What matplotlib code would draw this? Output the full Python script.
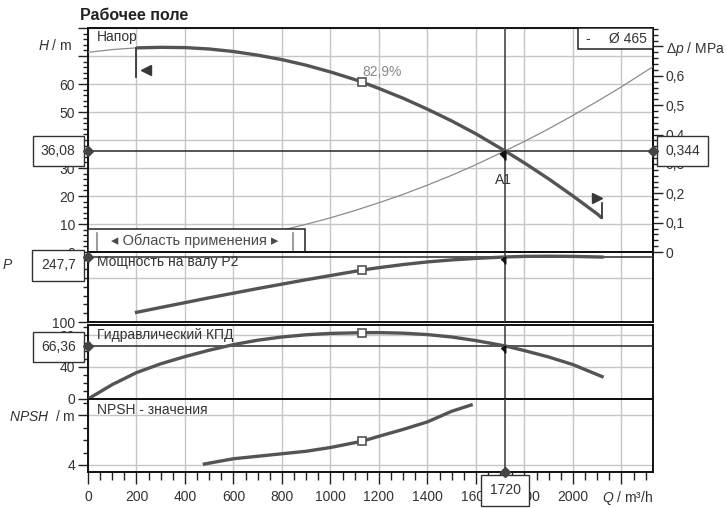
import matplotlib
matplotlib.use("Agg")
import numpy as np
import matplotlib.pyplot as plt
from matplotlib.ticker import MultipleLocator, FuncFormatter
from matplotlib.path import Path
from matplotlib.patches import Rectangle
from matplotlib.lines import Line2D

plt.rcParams.update({
    'font.family': ['Liberation Sans', 'DejaVu Sans'],
    'font.size': 10,
    'mathtext.fontset': 'custom',
    'mathtext.rm': 'Liberation Sans',
    'mathtext.it': 'Liberation Sans:italic',
    'mathtext.bf': 'Liberation Sans:bold',
})

# ---- operating point / impeller ----
q_op = 1720
h_op = 36.08
dp_op = 0.344
p2_op = 247.7
eta_op = 66.36
impeller = "Ø 465"
bep_q = 1130
bep_eta = 82.9

# ---- head curve: thin part below minimum flow, thick part in working range ----
q_head_ext = [0, 100, 200]
h_head_ext = [71.3, 72.3, 72.9]
q_head = [200, 300, 400, 500, 600, 700, 800, 900, 1000, 1100, 1130, 1200, 1300,
          1400, 1500, 1600, 1700, 1720, 1800, 1900, 2000, 2100, 2120]
h_head = [72.9, 73.1, 73.0, 72.5, 71.6, 70.3, 68.7, 66.7, 64.3, 61.6, 60.7, 58.4, 54.9,
          51.0, 46.8, 42.2, 37.1, 36.08, 31.8, 26.1, 20.0, 13.6, 12.1]

# ---- system curve (head equivalent) ----
q_sys = [0, 100, 200, 300, 400, 500, 600, 700, 800, 900, 1000, 1100, 1200, 1300,
         1400, 1500, 1600, 1700, 1800, 1900, 2000, 2100, 2200, 2330]
h_sys = [0.0, 0.1, 0.5, 1.1, 2.0, 3.0, 4.4, 6.0, 7.8, 9.9, 12.2, 14.8, 17.6, 20.6,
         23.9, 27.4, 31.2, 35.3, 39.5, 44.0, 48.8, 53.8, 59.0, 66.2]

# ---- shaft power P2, kW ----
q_p2 = [200, 300, 400, 500, 600, 700, 800, 900, 1000, 1100, 1130, 1200, 1300, 1400,
        1500, 1600, 1720, 1800, 1900, 2000, 2120]
p2 = [122, 133, 144, 155, 165.5, 176, 186, 196, 205.5, 215, 218, 223.5, 230.5, 236.5,
      241, 244.5, 247.7, 249, 249.5, 249, 247.5]

# ---- hydraulic efficiency, % ----
q_eta = [0, 100, 200, 300, 400, 500, 600, 700, 800, 900, 1000, 1130, 1200, 1300, 1400,
         1500, 1600, 1720, 1800, 1900, 2000, 2120]
eta = [0, 18, 33, 44, 53, 61, 68, 73.5, 77.5, 80.3, 82.0, 82.9, 83.0, 82.3, 80.5,
       77.5, 73, 66.36, 60.5, 52.5, 43, 28]

# ---- NPSH, m ----
q_npsh = [480, 600, 700, 800, 900, 1000, 1130, 1200, 1300, 1400, 1500, 1580]
npsh = [4.08, 4.5, 4.7, 4.9, 5.1, 5.4, 5.9, 6.3, 6.85, 7.45, 8.3, 8.8]

q_max = 2330

CURVE = '#545454'
THIN = '#8c8c8c'
GRID = '#c6c6c6'
OPER = '#383838'
TXT = '#333333'

W, HPX = 726, 508
fig = plt.figure(figsize=(W / 100, HPX / 100), dpi=100)


def rect(top, bottom, left=88, right=653):
    return [left / W, 1 - bottom / HPX, (right - left) / W, (bottom - top) / HPX]


ax_h = fig.add_axes(rect(28, 252))
ax_p = fig.add_axes(rect(252, 322))
ax_e = fig.add_axes(rect(325, 399))
ax_n = fig.add_axes(rect(399, 472))
axes = [ax_h, ax_p, ax_e, ax_n]

for ax in axes:
    ax.patch.set_visible(False)
    ax.set_xlim(0, q_max)
    ax.xaxis.set_major_locator(MultipleLocator(200))
    ax.xaxis.set_minor_locator(MultipleLocator(50))
    ax.grid(True, which='major', color=GRID, lw=1.0)
    ax.set_axisbelow(True)
    for s in ax.spines.values():
        s.set_linewidth(1.4)
        s.set_color('#111111')
    ax.tick_params(axis='x', which='both', bottom=False, labelbottom=False)
    ax.tick_params(axis='y', which='both', direction='out', colors='#222222',
                   labelcolor=TXT, labelsize=10, pad=2, right=False)
    ax.tick_params(axis='y', which='major', length=7.2, width=1)
    ax.tick_params(axis='y', which='minor', length=3.6, width=1)
    ax.axvline(q_op, color=OPER, lw=1.1, zorder=4)


def box(ax, text, xy, xycoords, offset, ha, va='center'):
    ax.annotate(text, xy=xy, xycoords=xycoords, xytext=offset,
                textcoords='offset points', ha=ha, va=va, color=TXT, fontsize=10,
                annotation_clip=False, zorder=10,
                bbox=dict(boxstyle='square,pad=0.6', fc='white', ec='#333333', lw=1))


def diamond(ax, x, y, **kw):
    ax.plot([x], [y], marker='D', ms=5, color='#444444', clip_on=False, zorder=11, **kw)


# small flag marking the duty point on each curve
flag = Path([(-0.6, -0.35), (0, 0), (0, -1.0)],
            [Path.MOVETO, Path.LINETO, Path.LINETO])

# ================= head panel =================
k_dp = dp_op / h_op
ax_h.set_ylim(0, 80)
ax_h.yaxis.set_major_locator(MultipleLocator(10))
ax_h.yaxis.set_minor_locator(MultipleLocator(2))
ax_h.yaxis.set_major_formatter(FuncFormatter(lambda v, p: '' if v > 65 else f'{v:.0f}'))

ax_h.plot(q_sys, h_sys, color=THIN, lw=0.9, zorder=3)
ax_h.plot(q_head_ext, h_head_ext, color=THIN, lw=0.9, zorder=3)
ax_h.plot(q_head, h_head, color=CURVE, lw=2.4, zorder=5, solid_capstyle='butt')
ax_h.axhline(h_op, color=OPER, lw=1.2, zorder=4)

h_bep = float(np.interp(bep_q, q_head, h_head))
ax_h.plot([bep_q], [h_bep], marker='s', ms=6, mfc='white', mec=CURVE, mew=1.2, zorder=6)
ax_h.annotate(f'{bep_eta:.1f}%'.replace('.', ','), xy=(bep_q, h_bep), xytext=(0.5, 7.5),
              textcoords='offset points', ha='left', va='center', color='#8a8a8a', fontsize=10)

# working range limits
q_lo, h_lo = q_head[0], h_head[0]
q_hi, h_hi = q_head[-1], h_head[-1]
ax_h.plot([q_lo, q_lo], [h_lo, h_lo - 10.4], color=OPER, lw=1.3, zorder=6)
ax_h.plot([q_lo + 40], [h_lo - 7.9], marker='<', ms=7, color=OPER, zorder=6)
ax_h.plot([q_hi, q_hi], [h_hi, h_hi + 5.4], color=OPER, lw=1.3, zorder=6)
ax_h.plot([q_hi - 20], [h_hi + 7.2], marker='>', ms=7, color=OPER, zorder=6)

ax_h.plot([q_op], [h_op], marker=flag, ms=13, color='#111111', mew=1.6, zorder=7)
ax_h.annotate('A1', xy=(q_op, h_op), xytext=(-1.5, -21), textcoords='offset points',
              ha='center', va='center', color=TXT, fontsize=10)

ax_h.annotate('Напор', xy=(0, 1), xycoords='axes fraction', xytext=(6.5, -6.5),
              textcoords='offset points', ha='left', va='center', color=TXT, fontsize=10)
ax_h.annotate(r'$H$ / m', xy=(0, 0.7 / k_dp), xycoords=('axes fraction', 'data'),
              xytext=(-11.5, 1), textcoords='offset points', ha='right', va='center',
              color=TXT, fontsize=10, annotation_clip=False)

# application range box
ax_h.add_patch(Rectangle((0, 0), 0.384, 0.1027, transform=ax_h.transAxes,
                         fc='white', ec='#222222', lw=1.1, zorder=8))
for xb in (0.016, 0.363):
    ax_h.add_line(Line2D([xb, xb], [0.009, 0.085], transform=ax_h.transAxes,
                         color='#8a8a8a', lw=1.2, zorder=9))
ax_h.text(0.189, 0.049, '◂ Область применения ▸', transform=ax_h.transAxes,
          ha='center', va='center', color='#4a4a4a', fontsize=10.5, zorder=9)

# impeller box
ax_h.add_patch(Rectangle((0.867, 0.906), 0.133, 0.094, transform=ax_h.transAxes,
                         fc='white', ec='#222222', lw=1.1, zorder=8))
ax_h.text(0.880, 0.953, '-', transform=ax_h.transAxes, ha='left', va='center',
          color=TXT, fontsize=10, zorder=9)
ax_h.text(0.990, 0.953, impeller, transform=ax_h.transAxes, ha='right', va='center',
          color=TXT, fontsize=10, zorder=9)

# pressure axis on the right
sec = ax_h.secondary_yaxis('right', functions=(lambda h: h * k_dp, lambda d: d / k_dp))


def dp_fmt(v, pos):
    if abs(v - 0.7) < 1e-6:
        return r'$\Delta p$ / MPa'
    if abs(v) < 1e-9:
        return '0'
    return f'{v:.1f}'.replace('.', ',')


sec.yaxis.set_major_locator(MultipleLocator(0.1))
sec.yaxis.set_minor_locator(MultipleLocator(0.02))
sec.yaxis.set_major_formatter(FuncFormatter(dp_fmt))
sec.tick_params(which='both', direction='out', colors='#222222', labelcolor=TXT,
                labelsize=10, pad=2)
sec.tick_params(which='major', length=7.2, width=1)
sec.tick_params(which='minor', length=3.6, width=1)
sec.spines['right'].set_linewidth(1.4)

diamond(ax_h, 0, h_op)
diamond(ax_h, q_max, h_op)
box(ax_h, f'{h_op:.2f}'.replace('.', ','), (0, h_op), ('axes fraction', 'data'), (-8.9, 0), 'right')
box(ax_h, f'{dp_op:.3f}'.replace('.', ','), (1, h_op), ('axes fraction', 'data'), (8.9, 0), 'left')

# ================= power panel =================
ax_p.set_ylim(100, 259)
ax_p.yaxis.set_major_locator(MultipleLocator(100))
ax_p.yaxis.set_minor_locator(MultipleLocator(20))
ax_p.yaxis.set_major_formatter(FuncFormatter(lambda v, p: '100' if abs(v - 100) < 1e-6 else ''))
ax_p.plot(q_p2, p2, color=CURVE, lw=2.4, zorder=5)
ax_p.axhline(p2_op, color=OPER, lw=1.2, zorder=4)
p_bep = float(np.interp(bep_q, q_p2, p2))
ax_p.plot([bep_q], [p_bep], marker='s', ms=6, mfc='white', mec=CURVE, mew=1.2, zorder=6)
ax_p.plot([q_op], [p2_op], marker=flag, ms=10, color='#111111', mew=1.4, zorder=7)
ax_p.annotate('Мощность на валу P2', xy=(0, 1), xycoords='axes fraction', xytext=(6.5, -7.2),
              textcoords='offset points', ha='left', va='center', color=TXT, fontsize=10)
ax_p.text(-0.152, 229.5, r'$P$', transform=ax_p.get_yaxis_transform(), ha='left',
          va='center', color=TXT, fontsize=10, clip_on=False, zorder=1)
diamond(ax_p, 0, p2_op)
box(ax_p, f'{p2_op:.1f}'.replace('.', ','), (0, p2_op), ('axes fraction', 'data'), (-8.9, -6.1), 'right')

# ================= efficiency panel =================
ax_e.set_ylim(0, 92.5)
ax_e.yaxis.set_major_locator(MultipleLocator(40))
ax_e.yaxis.set_minor_locator(MultipleLocator(10))
ax_e.yaxis.set_major_formatter(FuncFormatter(lambda v, p: f'{v:.0f}'))
ax_e.plot(q_eta, eta, color=CURVE, lw=2.4, zorder=5)
ax_e.axhline(eta_op, color=OPER, lw=1.2, zorder=4)
ax_e.plot([bep_q], [bep_eta], marker='s', ms=6, mfc='white', mec=CURVE, mew=1.2, zorder=6)
ax_e.plot([q_op], [eta_op], marker=flag, ms=10, color='#111111', mew=1.4, zorder=7)
ax_e.annotate('Гидравлический КПД', xy=(0, 1), xycoords='axes fraction', xytext=(6.5, -7.2),
              textcoords='offset points', ha='left', va='center', color=TXT, fontsize=10)
diamond(ax_e, 0, eta_op)
box(ax_e, f'{eta_op:.2f}'.replace('.', ','), (0, eta_op), ('axes fraction', 'data'), (-8.9, -0.7), 'right')

# ================= NPSH panel =================
ax_n.set_ylim(3.44, 9.28)
ax_n.yaxis.set_major_locator(MultipleLocator(4))
ax_n.yaxis.set_minor_locator(MultipleLocator(1))
ax_n.yaxis.set_major_formatter(FuncFormatter(
    lambda v, p: r'$NPSH$  / m' if abs(v - 8) < 1e-6 else f'{v:.0f}'))
ax_n.plot(q_npsh, npsh, color=CURVE, lw=2.4, zorder=5)
n_bep = float(np.interp(bep_q, q_npsh, npsh))
ax_n.plot([bep_q], [n_bep], marker='s', ms=6, mfc='white', mec=CURVE, mew=1.2, zorder=6)
ax_n.annotate('NPSH - значения', xy=(0, 1), xycoords='axes fraction', xytext=(6.5, -8),
              textcoords='offset points', ha='left', va='center', color=TXT, fontsize=10)

ax_n.tick_params(axis='x', which='both', bottom=True, labelbottom=True, direction='out',
                 colors='#222222', labelcolor=TXT, labelsize=10, pad=4.5)
ax_n.tick_params(axis='x', which='major', length=8.5, width=1)
ax_n.tick_params(axis='x', which='minor', length=5.5, width=1)
ax_n.xaxis.set_major_formatter(FuncFormatter(lambda v, p: '' if v > 2100 else f'{v:.0f}'))
ax_n.annotate(r'$Q$ / m³/h', xy=(1, 0), xycoords='axes fraction', xytext=(0, -19),
              textcoords='offset points', ha='right', va='center', color=TXT, fontsize=10,
              annotation_clip=False)
diamond(ax_n, q_op, 3.44)
box(ax_n, f'{q_op}', (q_op, 0), ('data', 'axes fraction'), (0, -13.2), 'center')

fig.text(80 / W, 1 - 16 / HPX, 'Рабочее поле', fontsize=11.5, fontweight='bold',
         color='#222222', ha='left', va='center')

fig.savefig('out.png', dpi=100, facecolor='white')
